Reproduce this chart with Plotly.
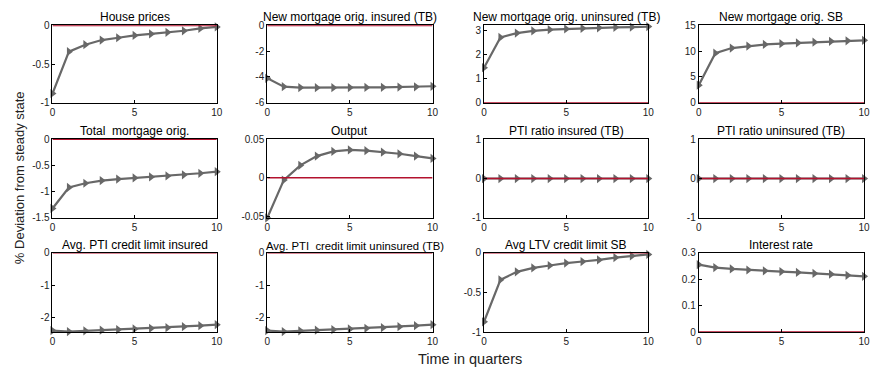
import plotly.graph_objects as go

W, H = 876, 373
quarters = list(range(11))

titles = [
    "House prices", "New mortgage orig. insured (TB)", "New mortgage orig. uninsured (TB)", "New mortgage orig. SB",
    "Total  mortgage orig.", "Output", "PTI ratio insured (TB)", "PTI ratio uninsured (TB)",
    "Avg. PTI credit limit insured", "Avg. PTI  credit limit uninsured (TB)", "Avg LTV credit limit SB", "Interest rate",
]

house_prices = [-0.88, -0.34, -0.25, -0.19, -0.16, -0.13, -0.11, -0.09, -0.07, -0.04, -0.02]
mort_insured = [-4.1, -4.75, -4.82, -4.83, -4.83, -4.82, -4.81, -4.80, -4.78, -4.76, -4.72]
mort_uninsured = [1.45, 2.7, 2.88, 2.97, 3.02, 3.05, 3.08, 3.10, 3.12, 3.13, 3.15]
mort_sb = [3.4, 9.6, 10.6, 11.0, 11.3, 11.45, 11.6, 11.75, 11.9, 12.0, 12.1]
mort_total = [-1.32, -0.92, -0.84, -0.79, -0.76, -0.74, -0.72, -0.70, -0.68, -0.65, -0.62]
output = [-0.052, -0.003, 0.016, 0.028, 0.034, 0.036, 0.035, 0.033, 0.031, 0.028, 0.025]
pti_insured = [0, 0, 0, 0, 0, 0, 0, 0, 0, 0, 0]
pti_uninsured = [0, 0, 0, 0, 0, 0, 0, 0, 0, 0, 0]
pti_limit_insured = [-2.40, -2.43, -2.41, -2.39, -2.37, -2.35, -2.33, -2.31, -2.28, -2.25, -2.22]
pti_limit_uninsured = [-2.40, -2.43, -2.41, -2.39, -2.37, -2.35, -2.33, -2.31, -2.28, -2.25, -2.22]
ltv_limit_sb = [-0.87, -0.34, -0.24, -0.19, -0.16, -0.13, -0.11, -0.09, -0.06, -0.04, -0.02]
interest_rate = [0.255, 0.244, 0.239, 0.235, 0.232, 0.229, 0.226, 0.222, 0.219, 0.215, 0.211]

series = [house_prices, mort_insured, mort_uninsured, mort_sb,
          mort_total, output, pti_insured, pti_uninsured,
          pti_limit_insured, pti_limit_uninsured, ltv_limit_sb, interest_rate]

y_ranges = [[-1, 0], [-6, 0], [0, 3.2], [0, 15],
            [-1.5, 0], [-0.052, 0.05], [-1, 1], [-1, 1],
            [-2.45, 0], [-2.45, 0], [-1, 0], [0, 0.3]]
y_ticks = [[-1, -0.5, 0], [-6, -4, -2, 0], [0, 1, 2, 3], [0, 5, 10, 15],
           [-1.5, -1, -0.5, 0], [-0.05, 0, 0.05], [-1, 0, 1], [-1, 0, 1],
           [-2, -1, 0], [-2, -1, 0], [-1, -0.5, 0], [0, 0.1, 0.2, 0.3]]
y_ticktext = [["-1", "-0.5", "0"], ["-6", "-4", "-2", "0"], ["0", "1", "2", "3"], ["0", "5", "10", "15"],
              ["-1.5", "-1", "-0.5", "0"], ["-0.05", "0", "0.05"], ["-1", "0", "1"], ["-1", "0", "1"],
              ["-2", "-1", "0"], ["-2", "-1", "0"], ["-1", "-0.5", "0"], ["0", "0.1", "0.2", "0.3"]]

col_px = [(50, 216), (267, 434), (486, 652), (703, 870)]
row_px = [(20, 100), (137.5, 219), (255, 337)]

FONT = "Liberation Sans, Arial, sans-serif"
GRAY = "#686868"
RED = "#b3122e"

fig = go.Figure()
annotations = []
for i in range(12):
    r, c = divmod(i, 4)
    n = i + 1
    xa = "x" if n == 1 else f"x{n}"
    ya = "y" if n == 1 else f"y{n}"
    x0, x1 = col_px[c]
    yt, yb = row_px[r]
    fig.add_trace(go.Scatter(
        x=quarters, y=series[i], xaxis=xa, yaxis=ya, mode="lines+markers",
        line=dict(color=GRAY, width=2.2),
        marker=dict(symbol="triangle-right", size=8, color=GRAY),
        showlegend=False, cliponaxis=False, hoverinfo="skip"))
    fig.add_trace(go.Scatter(
        x=[quarters[0], quarters[-1]], y=[0, 0], xaxis=xa, yaxis=ya, mode="lines",
        line=dict(color=RED, width=1.6), showlegend=False, cliponaxis=False, hoverinfo="skip"))
    axis_common = dict(showline=True, linecolor="black", linewidth=1, mirror=True,
                       ticks="inside", ticklen=3, tickcolor="black", showgrid=False,
                       zeroline=False, tickfont=dict(family=FONT, size=10, color="#222"))
    fig.update_layout(**{
        ("xaxis" if n == 1 else f"xaxis{n}"): dict(
            domain=[x0 / W, x1 / W], anchor=ya, range=[0, 10],
            tickvals=[0, 5, 10], ticktext=["0", "5", "10"], **axis_common),
        ("yaxis" if n == 1 else f"yaxis{n}"): dict(
            domain=[1 - yb / H, 1 - yt / H], anchor=xa, range=y_ranges[i],
            tickvals=y_ticks[i], ticktext=y_ticktext[i], **axis_common),
    })
    long_title = len(titles[i]) > 34
    annotations.append(dict(
        text=titles[i], x=(x0 + x1) / 2 / W, y=1 - yt / H, xref="paper", yref="paper",
        xanchor="center", yanchor="bottom", showarrow=False, yshift=-1,
        xshift=5 if long_title else 0,
        font=dict(family=FONT, size=11.3 if long_title else 12, color="black")))

annotations.append(dict(text="Time in quarters", x=472 / W, y=1 - 365 / H, xref="paper", yref="paper",
                        xanchor="center", yanchor="middle", showarrow=False,
                        font=dict(family=FONT, size=14.5, color="#222")))
annotations.append(dict(text="% Deviation from steady state", x=16 / W, y=1 - 177 / H, xref="paper",
                        yref="paper", xanchor="center", yanchor="middle", showarrow=False, textangle=-90,
                        font=dict(family=FONT, size=13, color="#222")))

fig.update_layout(width=W, height=H, margin=dict(l=0, r=0, t=0, b=0),
                  paper_bgcolor="white", plot_bgcolor="white", annotations=annotations)
fig.write_html("out.html")
